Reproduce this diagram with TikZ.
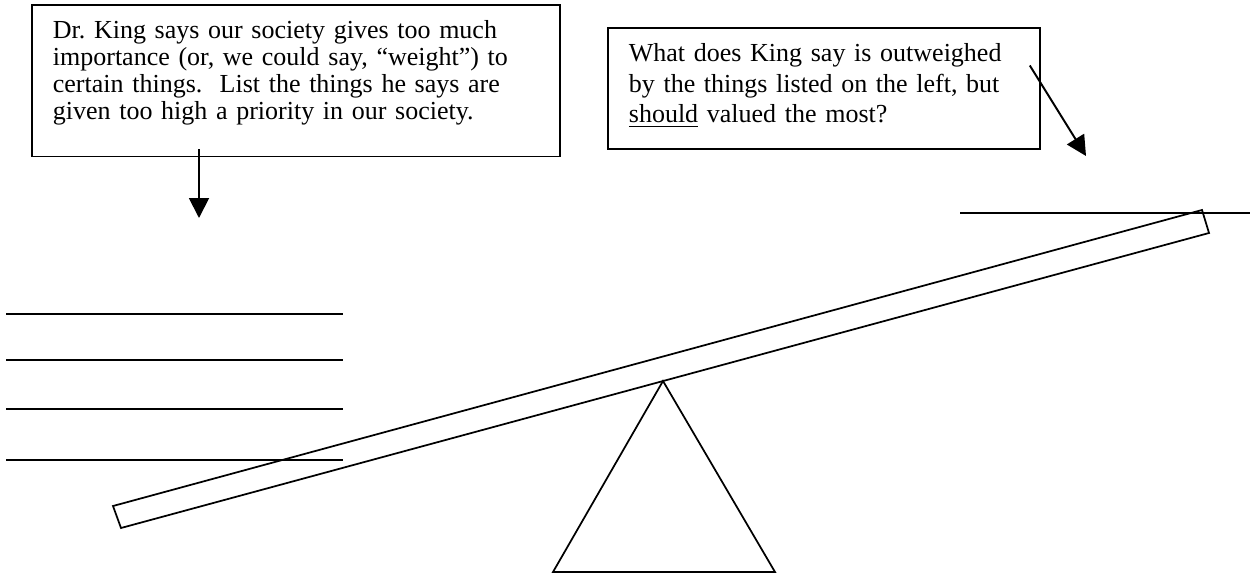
\documentclass[tikz,border=0pt]{standalone}
\usepackage{fontspec}
\setmainfont{Liberation Serif}
\usetikzlibrary{arrows.meta, calc}

\tikzset{
  qbox/.style={draw, line width=0.8pt, anchor=north west, align=left, inner xsep=9.7pt, inner ysep=0pt},
  pointer/.style={-{Triangle[length=9.2pt, width=9.2pt]}, line width=0.9pt},
}

\begin{document}
\frenchspacing
\begin{tikzpicture}[x=0.4615pt, y=-0.4615pt, line width=0.8pt]
    \useasboundingbox (0,0) rectangle (1253,579);

    % question boxes
    \node[qbox, text width=224.3pt, font=\fontsize{12}{12.5}\selectfont] (leftq) at (31,4)
      {\rule{0pt}{15.4pt}Dr. King says our society gives too much\\
       importance (or, we could say, “weight”) to\\
       certain things.\ \ List the things he says are\\
       given too high a priority in our society.\rule[-17.1pt]{0pt}{17.1pt}};
    \node[qbox, text width=180pt, font=\fontsize{12}{14.1}\selectfont] (rightq) at (607,27.5)
      {\rule{0pt}{15.4pt}What does King say is outweighed\\
       by the things listed on the left, but\\
       \underline{should} valued the most?\rule[-12pt]{0pt}{12pt}};

    \coordinate (leftfrom) at ($(leftq.south west)+(168,-8)$);
    \coordinate (lefttip) at (199,218);
    \coordinate (rightfrom) at ($(rightq.north east)+(-11,38)$);
    \coordinate (righttip) at (1086,156);
    \draw[pointer] (leftfrom) -- (lefttip);
    \draw[pointer] (rightfrom) -- (righttip);

    % answer lines
    \foreach \y in {314,360,409,460}
        \draw (6,\y) -- (343,\y);
    \draw (960,213) -- (1250,213);

    % seesaw
    \coordinate (plankA) at (113,506);
    \coordinate (plankB) at (121,528);
    \coordinate (plankC) at (1209,233);
    \coordinate (plankD) at (1202,210);
    \draw (plankA) -- (plankD) -- (plankC) -- (plankB) -- cycle;

    \coordinate (apex) at (663,381);
    \draw (apex) -- (775,572) -- (553,572) -- cycle;
\end{tikzpicture}
\end{document}
